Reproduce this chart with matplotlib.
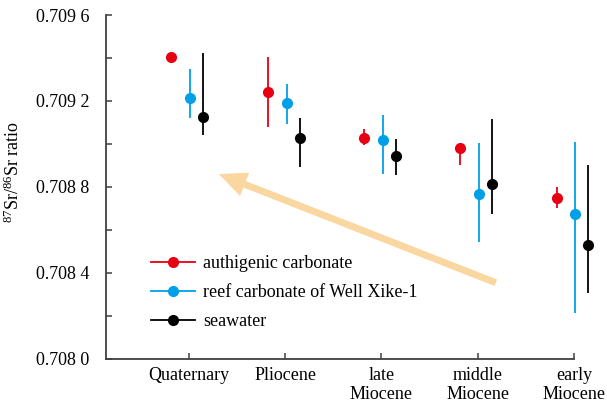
import matplotlib
matplotlib.use("Agg")
import matplotlib.pyplot as plt
from matplotlib.lines import Line2D
import numpy as np

plt.rcParams['font.family'] = ['Liberation Serif', 'DejaVu Serif']
plt.rcParams['mathtext.fontset'] = 'custom'
plt.rcParams['mathtext.rm'] = 'Liberation Serif'
plt.rcParams['mathtext.it'] = 'Liberation Serif:italic'

categories = ["Quaternary", "Pliocene", "late\nMiocene", "middle\nMiocene", "early\nMiocene"]

# authigenic carbonate
auth_val = [0.709406, 0.709242, 0.709026, 0.708982, 0.708750]
auth_lo  = [0.709406, 0.709077, 0.708993, 0.708902, 0.708700]
auth_hi  = [0.709406, 0.709403, 0.709068, 0.708990, 0.708801]

# reef carbonate of Well Xike-1
reef_val = [0.709215, 0.709189, 0.709017, 0.708765, 0.708674]
reef_lo  = [0.709121, 0.709093, 0.708860, 0.708542, 0.708214]
reef_hi  = [0.709349, 0.709279, 0.709135, 0.709003, 0.709007]

# seawater
sea_val = [0.709127, 0.709029, 0.708944, 0.708812, 0.708528]
sea_lo  = [0.709040, 0.708891, 0.708854, 0.708674, 0.708307]
sea_hi  = [0.709422, 0.709122, 0.709021, 0.709115, 0.708902]

yticks = [0.7080, 0.7084, 0.7088, 0.7092, 0.7096]
ytick_labels = ["0.708 0", "0.708 4", "0.708 8", "0.709 2", "0.709 6"]

FS = 13

fig = plt.figure(figsize=(6.07, 4.16), dpi=100)
ax = fig.add_axes([106/607, 1 - 358.7/416, 468/607, 343.7/416])

x = np.arange(1, len(categories) + 1)
series = [
    ("authigenic carbonate", auth_val, auth_lo, auth_hi, "#E60012", -0.18),
    ("reef carbonate of Well Xike-1", reef_val, reef_lo, reef_hi, "#00A0E9", 0.015),
    ("seawater", sea_val, sea_lo, sea_hi, "#000000", 0.15),
]
handles = []
for name, v, lo, hi, c, off in series:
    v = np.array(v); lo = np.array(lo); hi = np.array(hi)
    yerr = np.vstack([v - lo, hi - v])
    ax.errorbar(x + off, v, yerr=yerr, fmt='o', color=c, ecolor=c,
                elinewidth=1.3, markersize=7, capsize=0,
                clip_on=False)
    handles.append(Line2D([0], [0], color=c, lw=1.3, marker='o', markersize=7, label=name))

ax.set_xlim(0.14, 5.0)
ax.set_ylim(0.7080, 0.7096)
ax.set_yticks(yticks)
ax.set_yticklabels(ytick_labels)
ax.set_yticks(np.arange(0.7082, 0.7096, 0.0004), minor=True)
ax.set_xticks(x)
ax.set_xticklabels(categories, linespacing=1.15)

for s in ['top', 'right']:
    ax.spines[s].set_visible(False)
for s in ['left', 'bottom']:
    ax.spines[s].set_color('#404040')
    ax.spines[s].set_linewidth(1.3)

ax.tick_params(axis='y', which='both', direction='in', length=4, width=1.1,
               color='#404040', labelsize=FS, pad=12)
ax.tick_params(axis='x', direction='in', length=4, width=1.1,
               color='#404040', labelsize=FS, pad=6)

ax.set_ylabel(r"$^{87}$Sr/$^{86}$Sr ratio", fontsize=FS)
ax.yaxis.set_label_coords(-0.177, 0.543)

ax.annotate("", xy=(0.241, 0.537), xytext=(0.833, 0.221),
            xycoords='axes fraction', textcoords='axes fraction',
            arrowprops=dict(arrowstyle="simple,head_width=18,head_length=20,tail_width=5",
                            mutation_scale=1, color="#FAD7A0", lw=0,
                            shrinkA=0, shrinkB=0))

leg = ax.legend(handles=handles, loc='upper left', bbox_to_anchor=(0.096, 0.302),
                frameon=False, fontsize=FS, handlelength=2.45, handletextpad=0.45,
                labelspacing=0.68, borderaxespad=0, borderpad=0)

fig.savefig("out.png", dpi=100)
